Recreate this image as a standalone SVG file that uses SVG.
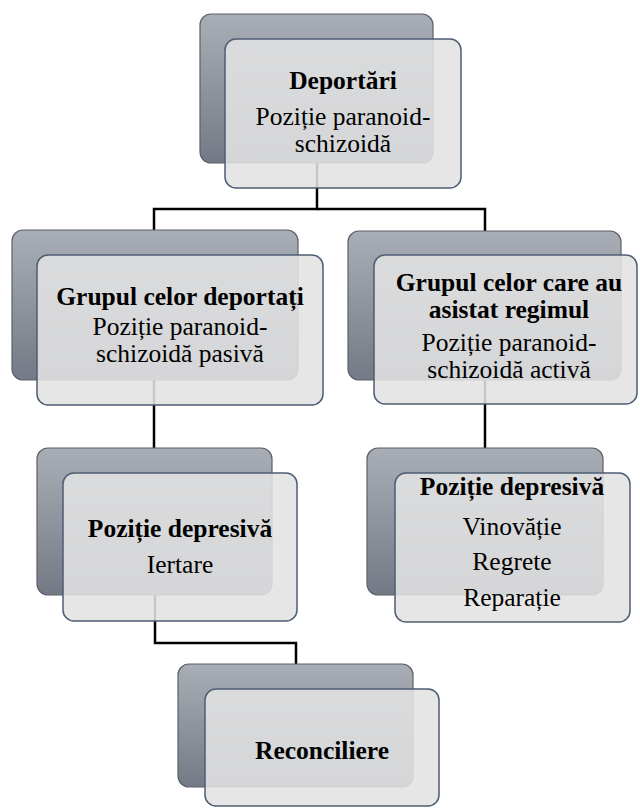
<svg xmlns="http://www.w3.org/2000/svg" width="640" height="809" viewBox="0 0 640 809">
<defs>
<linearGradient id="bg" x1="0" y1="0" x2="0" y2="1">
<stop offset="0" stop-color="#a9aeb6"/>
<stop offset="1" stop-color="#747a85"/>
</linearGradient>
<style>
.back{fill:url(#bg);stroke:#5c6068;stroke-width:1.2}
.front{fill:#e2e2e2;fill-opacity:0.88;stroke:#4d5d74;stroke-width:1.5}
.t{font-family:'Liberation Serif','Times New Roman',serif;font-size:25.5px;fill:#000;text-anchor:middle}
.b{font-weight:bold}
.conn{fill:none;stroke:#000;stroke-width:2.5}
</style>
</defs>
<rect width="640" height="809" fill="#fff"/>
<g id="connectors">
<path class="conn" d="M317,160 V209 H154 V232"/>
<path class="conn" d="M317,209 H485 V232"/>
<path class="conn" d="M154,378 V450"/>
<path class="conn" d="M485,378 V450"/>
<path class="conn" d="M155,593 V643 H296 V666"/>
</g>
<g id="n-deportari">
<rect class="back" x="200" y="14" width="233" height="149" rx="11"/>
<rect class="front" x="225" y="39" width="236" height="149" rx="11"/>
<text class="t b" x="343" y="89">Deportări</text>
<text class="t" x="343" y="125">Poziție paranoid-</text>
<text class="t" x="343" y="152">schizoidă</text>
</g>
<g id="n-deportati">
<rect class="back" x="12" y="230" width="286" height="150" rx="11"/>
<rect class="front" x="37" y="255" width="286" height="150" rx="11"/>
<text class="t b" x="180" y="305">Grupul celor deportați</text>
<text class="t" x="180" y="335">Poziție paranoid-</text>
<text class="t" x="180" y="362">schizoidă pasivă</text>
</g>
<g id="n-asistat">
<rect class="back" x="348" y="231" width="273" height="149" rx="11"/>
<rect class="front" x="374" y="255" width="263" height="149" rx="11"/>
<text class="t b" x="509" y="291">Grupul celor care au</text>
<text class="t b" x="509" y="318">asistat regimul</text>
<text class="t" x="509" y="351">Poziție paranoid-</text>
<text class="t" x="509" y="378">schizoidă activă</text>
</g>
<g id="n-depresiva-stanga">
<rect class="back" x="37" y="448" width="235" height="147" rx="11"/>
<rect class="front" x="63" y="473" width="234" height="148" rx="11"/>
<text class="t b" x="180" y="537">Poziție depresivă</text>
<text class="t" x="180" y="573">Iertare</text>
</g>
<g id="n-depresiva-dreapta">
<rect class="back" x="367" y="448" width="236" height="147" rx="11"/>
<rect class="front" x="395" y="473" width="235" height="149" rx="11"/>
<text class="t b" x="512" y="495">Poziție depresivă</text>
<text class="t" x="512" y="535">Vinovăție</text>
<text class="t" x="512" y="570">Regrete</text>
<text class="t" x="512" y="606">Reparație</text>
</g>
<g id="n-reconciliere">
<rect class="back" x="178" y="664" width="235" height="123" rx="11"/>
<rect class="front" x="205" y="689" width="234" height="117" rx="11"/>
<text class="t b" x="322" y="759">Reconciliere</text>
</g>
</svg>
